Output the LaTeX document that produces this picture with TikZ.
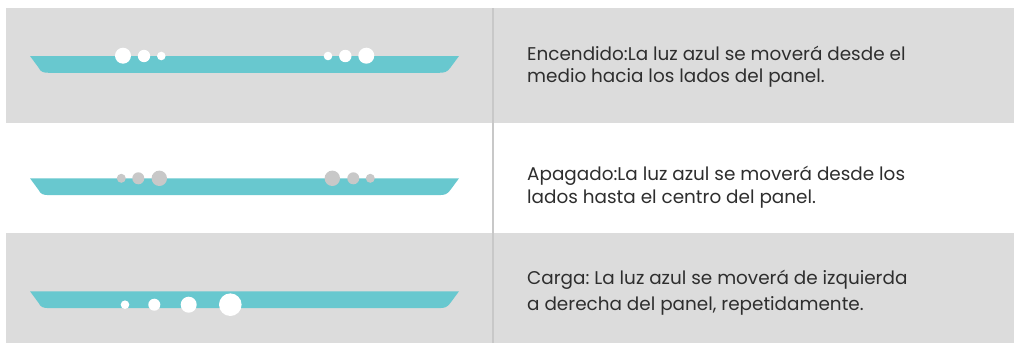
\documentclass[tikz,border=0pt]{standalone}
\usepackage{fontspec}
\setmainfont{Poppins}
\frenchspacing
\definecolor{rowgray}{HTML}{DCDCDC}
\definecolor{panelcol}{HTML}{68C8CF}
\definecolor{dotgray}{HTML}{C8C8C8}
\definecolor{sepcol}{HTML}{C8C8C8}
\definecolor{txt}{HTML}{2E2E2E}
\tikzset{
  desc/.style={anchor=base west, inner sep=0pt, text=txt, font=\fontsize{18.4}{22.5}\selectfont},
  wdot/.style={fill=white},
  gdot/.style={fill=dotgray},
}
\newcommand{\panelshape}[1]{%
  \fill[panelcol] (30,#1) -- (459,#1) -- (450.5,#1+11.5) .. controls (447.5,#1+16) and (444.5,#1+16.8) .. (439,#1+16.8) -- (49,#1+16.8) .. controls (43.5,#1+16.8) and (40.5,#1+16) .. (38.5,#1+11.5) -- cycle;}
\begin{document}
\begin{tikzpicture}[x=1pt,y=-1pt]
\useasboundingbox (0,0) rectangle (1014,343);
\fill[white] (0,0) rectangle (1014,343);
% rows
\fill[rowgray] (6,8) rectangle (1014,123);
\fill[rowgray] (6,233) rectangle (1014,343);
% separator
\draw[sepcol, line width=1.5pt] (493,8) -- (493,343);
% row 1
\panelshape{56}
\fill[wdot] (123,55.7) circle (8);
\fill[wdot] (144,56) circle (6.2);
\fill[wdot] (161.3,56) circle (4.3);
\fill[wdot] (328,56) circle (4.3);
\fill[wdot] (345.3,56) circle (6.2);
\fill[wdot] (366.3,55.7) circle (8);
% row 2
\panelshape{178.3}
\fill[gdot] (121.3,178.3) circle (4.5);
\fill[gdot] (138.3,178.3) circle (6);
\fill[gdot] (159.3,178.3) circle (7.7);
\fill[gdot] (332.3,178.3) circle (7.7);
\fill[gdot] (353.3,178.3) circle (6);
\fill[gdot] (370.3,178.3) circle (4.5);
% row 3
\panelshape{291.3}
\fill[wdot] (125,304.7) circle (4.3);
\fill[wdot] (154.3,304.7) circle (6);
\fill[wdot] (188.7,304.7) circle (8);
\fill[wdot] (230.3,304.7) circle (11.3);
% texts
\node[desc] (t1a) at (527,60) {Encendido:La luz azul se moverá desde el};
\node[desc] (t1b) at (527,82.5) {medio hacia los lados del panel.};
\node[desc] (t2a) at (527,180) {Apagado:La luz azul se moverá desde los};
\node[desc] (t2b) at (527,203) {lados hasta el centro del panel.};
\node[desc] (t3a) at (527,284) {Carga: La luz azul se moverá de izquierda};
\node[desc] (t3b) at (527,310.7) {a derecha del panel, repetidamente.};
\end{tikzpicture}
\end{document}
